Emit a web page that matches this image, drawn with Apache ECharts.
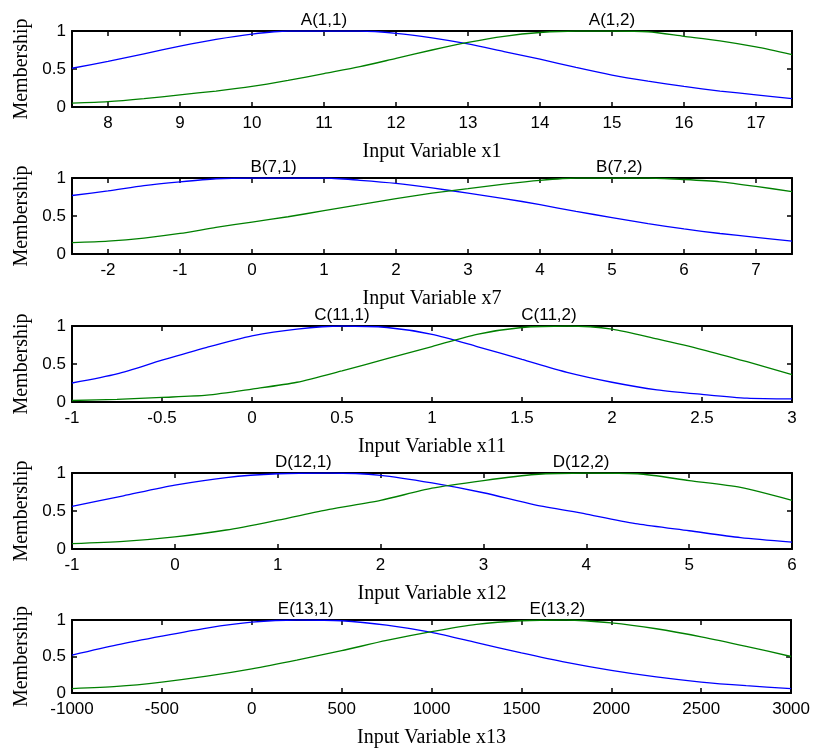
<!DOCTYPE html>
<html><head><meta charset="utf-8">
<script src="https://cdn.jsdelivr.net/npm/echarts@6/dist/echarts.min.js"></script>
<style>html,body{margin:0;padding:0;background:#fff}#c{width:813px;height:749px}</style>
</head><body><div id="c"></div>
<script>
// Panel 1: Input Variable x1
const x1 = [7.5,8,8.5,9,9.5,10,10.5,11,11.5,12,12.5,13,13.5,14,14.5,15,15.5,16,16.5,17,17.5];
const a11 = [0.51,0.60,0.70,0.80,0.89,0.96,1.0,1.0,1.0,0.97,0.91,0.83,0.73,0.63,0.52,0.42,0.34,0.27,0.21,0.16,0.11];
const a12 = [0.05,0.07,0.11,0.16,0.21,0.27,0.35,0.44,0.53,0.64,0.75,0.85,0.93,0.98,1.0,1.0,0.99,0.93,0.87,0.79,0.69];
const ticks1 = [8,9,10,11,12,13,14,15,16,17];
// Panel 2: Input Variable x7
const x7 = [-2.5,-2,-1.5,-1,-0.5,0,0.5,1,1.5,2,2.5,3,3.5,4,4.5,5,5.5,6,6.5,7,7.5];
const b71 = [0.77,0.83,0.90,0.95,0.99,1.0,1.0,1.0,0.97,0.93,0.87,0.80,0.73,0.65,0.56,0.48,0.40,0.33,0.27,0.22,0.17];
const b72 = [0.15,0.17,0.21,0.27,0.35,0.42,0.49,0.57,0.65,0.73,0.80,0.86,0.92,0.97,1.0,1.0,1.0,0.98,0.95,0.89,0.82];
const ticks7 = [-2,-1,0,1,2,3,4,5,6,7];
// Panel 3: Input Variable x11
const x11 = [-1,-0.75,-0.5,-0.25,0,0.25,0.5,0.75,1,1.25,1.5,1.75,2,2.25,2.5,2.75,3];
const c111 = [0.25,0.37,0.55,0.72,0.87,0.96,1.0,0.98,0.89,0.73,0.56,0.39,0.26,0.16,0.10,0.05,0.04];
const c112 = [0.02,0.035,0.06,0.09,0.17,0.26,0.41,0.57,0.73,0.89,0.98,1.0,0.96,0.83,0.69,0.53,0.36];
const ticks11 = [-1,-0.5,0,0.5,1,1.5,2,2.5,3];
// Panel 4: Input Variable x12
const x12 = [-1,-0.5,0,0.5,1,1.5,2,2.5,3,3.5,4,4.5,5,5.5,6];
const d121 = [0.56,0.70,0.84,0.94,0.99,1.0,0.97,0.87,0.74,0.58,0.46,0.33,0.24,0.15,0.09];
const d122 = [0.07,0.10,0.16,0.25,0.38,0.52,0.64,0.80,0.90,0.98,1.0,0.99,0.90,0.81,0.64];
const ticks12 = [-1,0,1,2,3,4,5,6];
// Panel 5: Input Variable x13
const x13 = [-1000,-750,-500,-250,0,250,500,750,1000,1250,1500,1750,2000,2250,2500,2750,3000];
const e131 = [0.52,0.66,0.78,0.89,0.97,1.0,0.99,0.93,0.83,0.69,0.55,0.42,0.31,0.22,0.15,0.10,0.06];
const e132 = [0.06,0.09,0.15,0.23,0.33,0.45,0.58,0.72,0.84,0.94,0.99,1.0,0.96,0.88,0.77,0.64,0.50];
const ticks13 = [-1000,-500,0,500,1000,1500,2000,2500,3000];
// Membership-function label names and their centers
const mfNames = [['A(1,1)','A(1,2)'],['B(7,1)','B(7,2)'],['C(11,1)','C(11,2)'],['D(12,1)','D(12,2)'],['E(13,1)','E(13,2)']];
const mfCenters = [[11,15],[0.3,5.1],[0.5,1.65],[1.25,3.95],[300,1700]];
const axisTitles = ['Input Variable x1','Input Variable x7','Input Variable x11','Input Variable x12','Input Variable x13'];

const panels = [
  {xs:x1, s1:a11, s2:a12, min:7.5, max:17.5, ticks:ticks1},
  {xs:x7, s1:b71, s2:b72, min:-2.5, max:7.5, ticks:ticks7},
  {xs:x11, s1:c111, s2:c112, min:-1, max:3, ticks:ticks11},
  {xs:x12, s1:d121, s2:d122, min:-1, max:6, ticks:ticks12},
  {xs:x13, s1:e131, s2:e132, min:-1000, max:3000, ticks:ticks13}
];
const tops = [31,178,326,473,620];
const SANS = 'Liberation Sans, Arial, sans-serif';
const SERIF = 'Liberation Serif, Times New Roman, serif';
const BLUE = '#0000ff', GREEN = '#008000';
const fmt = v => String(v);

const grid = [], xAxis = [], yAxis = [], series = [];
panels.forEach((p, i) => {
  grid.push({left:72, right:21, top:tops[i], height:76, containLabel:false});
  const line = {show:true, onZero:false, lineStyle:{color:'#000', width:2}};
  const tick = (cv) => ({show:true, inside:true, length:5, customValues:cv, lineStyle:{color:'#000', width:1.5}});
  xAxis.push({
    gridIndex:i, type:'value', min:p.min, max:p.max, position:'bottom',
    axisLine:line, axisTick:tick(p.ticks),
    axisLabel:{show:true, customValues:p.ticks, formatter:fmt, color:'#000', fontFamily:SANS, fontSize:17, margin:8},
    splitLine:{show:false},
    name:axisTitles[i], nameLocation:'middle', nameGap:35,
    nameTextStyle:{color:'#000', fontFamily:SERIF, fontSize:20}
  });
  xAxis.push({
    gridIndex:i, type:'value', min:p.min, max:p.max, position:'top',
    axisLine:line, axisTick:tick(p.ticks),
    axisLabel:{show:false}, splitLine:{show:false}
  });
  yAxis.push({
    gridIndex:i, type:'value', min:0, max:1, interval:0.5, position:'left',
    axisLine:line,
    axisTick:{show:true, inside:true, length:5, lineStyle:{color:'#000', width:1.5}},
    axisLabel:{show:true, formatter:fmt, color:'#000', fontFamily:SANS, fontSize:17, margin:6},
    splitLine:{show:false},
    name:'Membership', nameLocation:'middle', nameGap:39,
    nameTextStyle:{color:'#000', fontFamily:SERIF, fontSize:20}
  });
  yAxis.push({
    gridIndex:i, type:'value', min:0, max:1, interval:0.5, position:'right',
    axisLine:line,
    axisTick:{show:true, inside:true, length:5, lineStyle:{color:'#000', width:1.5}},
    axisLabel:{show:false}, splitLine:{show:false}
  });
  [[p.s1, BLUE, 0],[p.s2, GREEN, 1]].forEach(([ys, col, k]) => {
    series.push({
      type:'line', xAxisIndex:2*i, yAxisIndex:2*i,
      data: p.xs.map((x, j) => [x, ys[j]]),
      showSymbol:false, smooth:0.25, clip:true,
      lineStyle:{color:col, width:1.3}, itemStyle:{color:col},
      markPoint:{
        symbol:'circle', symbolSize:0, silent:true, animation:false,
        data:[{coord:[mfCenters[i][k], 1], name:mfNames[i][k]}],
        label:{show:true, position:'top', distance:2, formatter:'{b}', color:'#000', fontFamily:SANS, fontSize:17}
      }
    });
  });
});

const chart = echarts.init(document.getElementById('c'), null, {renderer:'canvas'});
chart.setOption({animation:false, backgroundColor:'#fff', grid, xAxis, yAxis, series});
</script>
</body></html>
